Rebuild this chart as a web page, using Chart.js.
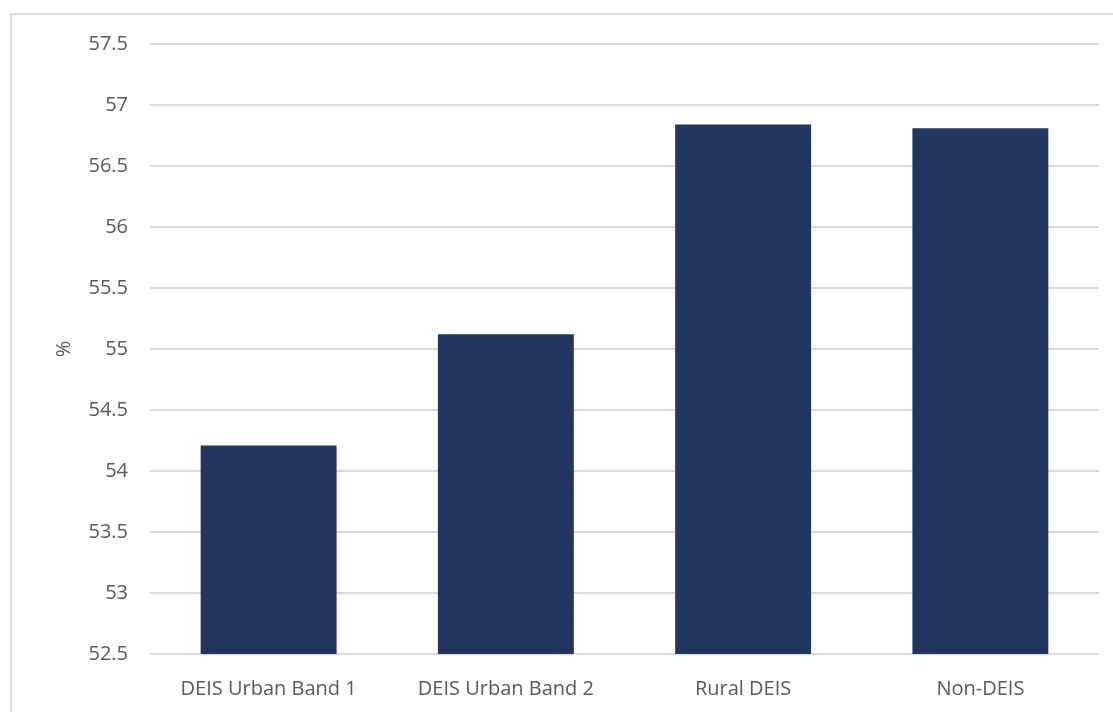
<!DOCTYPE html>
<html>
<head>
<meta charset="utf-8">
<script src="https://cdn.jsdelivr.net/npm/chart.js@4/dist/chart.umd.min.js"></script>
<style>
  html, body { margin: 0; padding: 0; background: #fff; }
  #frame { position: absolute; left: 10px; top: 13px; width: 1200px; height: 800px;
           border-left: 2px solid #d9d9d9; border-top: 2px solid #d9d9d9; }
  #wrap { position: absolute; left: 0; top: 0; width: 1113px; height: 712px; }
</style>
</head>
<body>
<div id="frame"></div>
<div id="wrap"><canvas id="barChart"></canvas></div>
<script>
var categories = ['DEIS Urban Band 1', 'DEIS Urban Band 2', 'Rural DEIS', 'Non-DEIS'];
var values = [54.21, 55.12, 56.84, 56.81];
var yMin = 52.5;
var yMax = 57.5;
var yStep = 0.5;

var textColor = '#595959';
var labelFont = { family: 'Open Sans', size: 20 };

var ctx = document.getElementById('barChart').getContext('2d');
var barChart = new Chart(ctx, {
  type: 'bar',
  data: {
    labels: categories,
    datasets: [
      {
        label: '%',
        backgroundColor: '#22355e',
        data: values,
        categoryPercentage: 1,
        barPercentage: 0.573
      }
    ]
  },
  options: {
    responsive: true,
    maintainAspectRatio: false,
    animation: false,
    layout: { padding: { top: 44, right: 14, left: 0, bottom: 0 } },
    plugins: {
      legend: { display: false },
      tooltip: { enabled: false }
    },
    scales: {
      x: {
        grid: { display: false, drawTicks: false },
        border: { display: false },
        ticks: { color: textColor, font: labelFont, padding: 23, maxRotation: 0 },
        afterFit: function(scale) { scale.height = 58; }
      },
      y: {
        min: yMin,
        max: yMax,
        grid: { color: '#d9d9d9', lineWidth: 2, drawTicks: false },
        border: { display: false },
        ticks: {
          stepSize: yStep,
          color: textColor,
          font: labelFont,
          padding: 22,
          // 57 not 57.0
          callback: function(value) { return String(+value.toFixed(1)); }
        },
        title: {
          display: true,
          text: '%',
          color: textColor,
          font: labelFont,
          padding: { top: 52, bottom: 0 }
        },
        afterFit: function(scale) { scale.width = 150; }
      }
    }
  }
});
</script>
</body>
</html>
